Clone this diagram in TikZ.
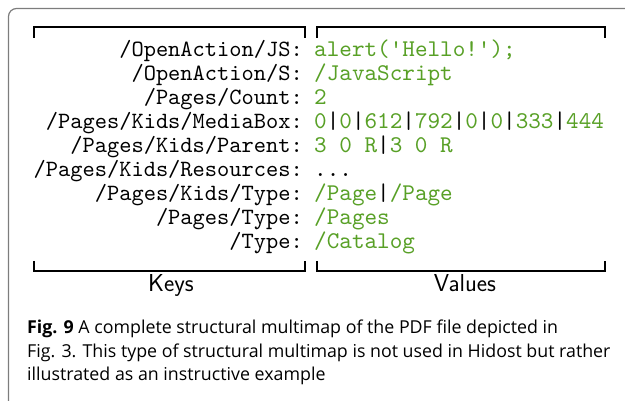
\documentclass[tikz,border=0pt]{standalone}
\usepackage{fontspec}
\newfontfamily\capfont{Open Sans}
\newfontfamily\monotext{lmmono10-regular.otf}
\definecolor{valgreen}{RGB}{88,160,38}
\definecolor{framegray}{RGB}{125,125,125}
\newcommand{\keyfont}{\fontsize{23.3}{24}\selectfont\monotext}
\newcommand{\valfont}{\fontsize{24}{24}\selectfont\monotext}
\newcommand{\labfont}{\fontsize{24.5}{24}\selectfont\sffamily}
\newcommand{\cfont}{\fontsize{17.8}{23}\selectfont\capfont}
\newcommand{\sep}{\textcolor{black}{|}}
\tikzset{
  keytext/.style={anchor=base east, inner sep=0pt, font=\keyfont},
  valtext/.style={anchor=base west, inner sep=0pt, font=\valfont, text=valgreen},
  braceline/.style={line width=2pt, black},
  grouplabel/.style={anchor=base, inner sep=0pt, font=\labfont},
  captext/.style={anchor=base west, inner sep=0pt, font=\cfont},
}
\begin{document}
\begin{tikzpicture}[x=1pt,y=-1pt]
\useasboundingbox (0,0) rectangle (625,401);
% outer panel
\draw[framegray, line width=1.2pt, rounded corners=8pt] (640,8.5) -- (8.5,8.5) -- (8.5,420);

% brackets above and below the two columns
\draw[braceline] (34,38) -- (34,27.5) -- (305,27.5) -- (305,38);
\draw[braceline] (316.5,38) -- (316.5,27.5) -- (605,27.5) -- (605,38);
\draw[braceline] (34,261) -- (34,271.5) -- (305,271.5) -- (305,261);
\draw[braceline] (316.5,261) -- (316.5,271.5) -- (605,271.5) -- (605,261);

% keys
\node[keytext] (k1) at (303,57) {/OpenAction/JS:};
\node[keytext] (k2) at (303,81) {/OpenAction/S:};
\node[keytext] (k3) at (303,105) {/Pages/Count:};
\node[keytext] (k4) at (303,129) {/Pages/Kids/MediaBox:};
\node[keytext] (k5) at (303,153) {/Pages/Kids/Parent:};
\node[keytext] (k6) at (303,177) {/Pages/Kids/Resources:};
\node[keytext] (k7) at (303,201) {/Pages/Kids/Type:};
\node[keytext] (k8) at (303,225) {/Pages/Type:};
\node[keytext] (k9) at (303,249) {/Type:};

% values
\node[valtext] (v1) at (314,57) {alert('Hello!');};
\node[valtext] (v2) at (314,81) {/JavaScript};
\node[valtext] (v3) at (314,105) {2};
\node[valtext] (v4) at (314,129) {0\sep0\sep612\sep792\sep0\sep0\sep333\sep444};
\node[valtext] (v5) at (314,153) {3 0 R\sep3 0 R};
\node[valtext, text=black] (v6) at (314,177) {...};
\node[valtext] (v7) at (314,201) {/Page\sep/Page};
\node[valtext] (v8) at (314,225) {/Pages};
\node[valtext] (v9) at (314,249) {/Catalog};

% column labels
\node[grouplabel] (keys) at (171,292) {Keys};
\node[grouplabel] (vals) at (465,292) {Values};

% caption
\node[captext] (c1) at (27,334) {\textbf{Fig. 9} A complete structural multimap of the PDF file depicted in};
\node[captext] (c2) at (27,357.5) {Fig. 3. This type of structural multimap is not used in Hidost but rather};
\node[captext] (c3) at (27,381) {illustrated as an instructive example};
\end{tikzpicture}
\end{document}
